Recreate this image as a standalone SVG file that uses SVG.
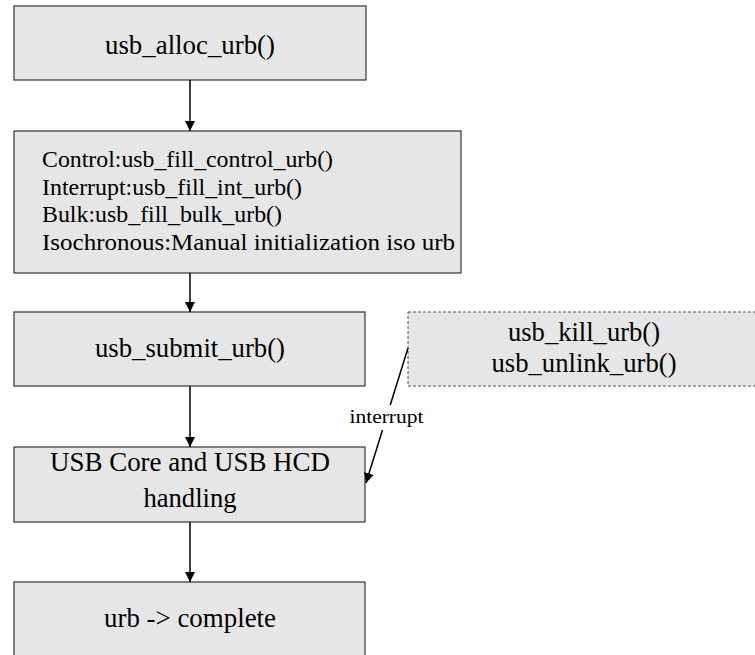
<svg xmlns="http://www.w3.org/2000/svg" width="755" height="655" viewBox="0 0 755 655">
<defs>
<style>
.box{fill:#e6e6e6;stroke:#333;stroke-width:1.2}
.dash{fill:#e6e6e6;stroke:#555;stroke-width:1;stroke-dasharray:3,2}
.t{font-size:27px;fill:#000}
.s{font-size:24px;fill:#000}
.c{text-anchor:middle}
.lbl{font-size:19px;fill:#000;text-anchor:middle}
.edge{stroke:#000;stroke-width:1.5;fill:none}
</style>
<marker id="ah" viewBox="0 0 10 10" refX="10" refY="5" markerWidth="10" markerHeight="10" markerUnits="userSpaceOnUse" orient="auto">
<path d="M0,0 L10,5 L0,10 Z" fill="#000"/>
</marker>
</defs>
<rect width="755" height="655" fill="#fff"/>
<g font-family="'Liberation Serif', 'Times New Roman', Times, 'DejaVu Serif', serif">
<g id="n1">
<rect class="box" x="14" y="6" width="352" height="74"/>
<text class="t c" x="190" y="54" textLength="170" lengthAdjust="spacingAndGlyphs">usb_alloc_urb()</text>
</g>
<g id="n2">
<rect class="box" x="14" y="131" width="447" height="142"/>
<text class="s" x="42" y="167" textLength="291" lengthAdjust="spacingAndGlyphs">Control:usb_fill_control_urb()</text>
<text class="s" x="42" y="195" textLength="260" lengthAdjust="spacingAndGlyphs">Interrupt:usb_fill_int_urb()</text>
<text class="s" x="42" y="222" textLength="240" lengthAdjust="spacingAndGlyphs">Bulk:usb_fill_bulk_urb()</text>
<text class="s" x="42" y="250" textLength="413" lengthAdjust="spacingAndGlyphs">Isochronous:Manual initialization iso urb</text>
</g>
<g id="n3">
<rect class="box" x="14" y="312" width="351" height="74"/>
<text class="t c" x="190" y="357" textLength="190" lengthAdjust="spacingAndGlyphs">usb_submit_urb()</text>
</g>
<g id="n4">
<rect class="dash" x="408" y="312" width="352" height="74"/>
<text class="t c" x="584" y="341" textLength="152" lengthAdjust="spacingAndGlyphs">usb_kill_urb()</text>
<text class="t c" x="584" y="372" textLength="185" lengthAdjust="spacingAndGlyphs">usb_unlink_urb()</text>
</g>
<g id="n5">
<rect class="box" x="14" y="447" width="351" height="75"/>
<text class="t c" x="190" y="471" textLength="280" lengthAdjust="spacingAndGlyphs">USB Core and USB HCD</text>
<text class="t c" x="190" y="507" textLength="93" lengthAdjust="spacingAndGlyphs">handling</text>
</g>
<g id="n6">
<rect class="box" x="14" y="582" width="351" height="90"/>
<text class="t c" x="190" y="627" textLength="172" lengthAdjust="spacingAndGlyphs">urb -&gt; complete</text>
</g>
<g id="connectors">
<line class="edge" x1="190" y1="80" x2="190" y2="131" marker-end="url(#ah)"/>
<line class="edge" x1="190" y1="273" x2="190" y2="312" marker-end="url(#ah)"/>
<line class="edge" x1="190" y1="386" x2="190" y2="447" marker-end="url(#ah)"/>
<line class="edge" x1="190" y1="522" x2="190" y2="582" marker-end="url(#ah)"/>
<line class="edge" x1="408" y1="348" x2="366" y2="483" marker-end="url(#ah)"/>
<rect x="350" y="405" width="73" height="25" fill="#fff"/>
<text class="lbl" x="386.5" y="423" textLength="74" lengthAdjust="spacingAndGlyphs">interrupt</text>
</g>
</g>
</svg>
